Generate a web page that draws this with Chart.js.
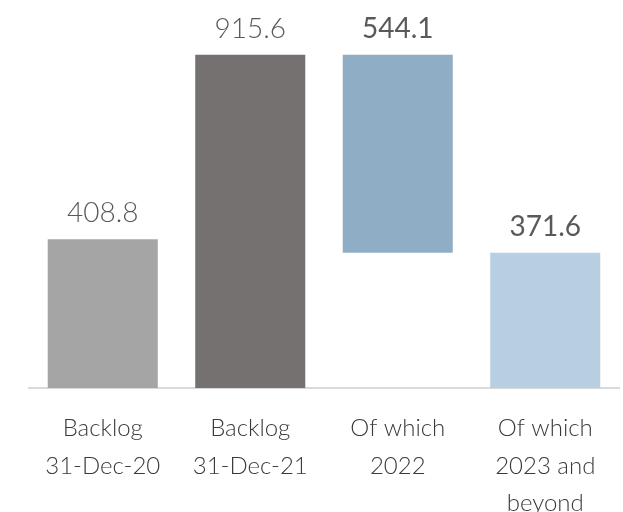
<!DOCTYPE html>
<html>
<head>
<meta charset="utf-8">
<script src="https://cdn.jsdelivr.net/npm/chart.js@4"></script>
<style>
  html, body { margin: 0; padding: 0; background: #ffffff; }
  #chart { display: block; }
</style>
</head>
<body>
<canvas id="chart" width="623" height="512"></canvas>
<script>
const categories = [
  ["Backlog", "31-Dec-20"],
  ["Backlog", "31-Dec-21"],
  ["Of which", "2022"],
  ["Of which", "2023 and", "beyond"]
];
const barStart = [0, 0, 371.6, 0];
const barEnd = [408.8, 915.6, 915.6, 371.6];
const valueLabels = ["408.8", "915.6", "544.1", "371.6"];
const barColors = ["#a5a5a5", "#767171", "#8faec5", "#b8cfe2"];
const labelWeights = ["300", "300", "400", "400"];

const FONT = "Lato, 'Open Sans', sans-serif";

// value labels above each bar
const valueLabelPlugin = {
  id: "valueLabels",
  afterDatasetsDraw(chart) {
    const ctx = chart.ctx;
    const meta = chart.getDatasetMeta(0);
    ctx.save();
    ctx.textAlign = "center";
    ctx.textBaseline = "bottom";
    meta.data.forEach((bar, i) => {
      ctx.font = labelWeights[i] + " 28px " + FONT;
      ctx.fillStyle = "#595959";
      ctx.fillText(valueLabels[i], bar.x, bar.y - 12);
    });
    ctx.restore();
  }
};

const ctx = document.getElementById("chart").getContext("2d");
new Chart(ctx, {
  type: "bar",
  data: {
    labels: categories,
    datasets: [{
      data: barStart.map((s, i) => [s, barEnd[i]]),
      backgroundColor: barColors,
      borderWidth: 0,
      barPercentage: 0.746,
      categoryPercentage: 1
    }]
  },
  options: {
    responsive: false,
    animation: false,
    layout: { padding: { left: 29, right: 4, top: 24, bottom: 0 } },
    plugins: {
      legend: { display: false },
      tooltip: { enabled: false }
    },
    scales: {
      x: {
        grid: { display: false },
        border: { display: true, color: "#d9d9d9", width: 2 },
        ticks: {
          color: "#3a3a3a",
          padding: 14,
          maxRotation: 0,
          autoSkip: false,
          font: { family: FONT, size: 24, weight: "300", lineHeight: 1.55 }
        },
        afterFit(scale) { scale.height = 124; }
      },
      y: {
        display: false,
        min: 0,
        max: 1000
      }
    }
  },
  plugins: [valueLabelPlugin]
});
</script>
</body>
</html>
